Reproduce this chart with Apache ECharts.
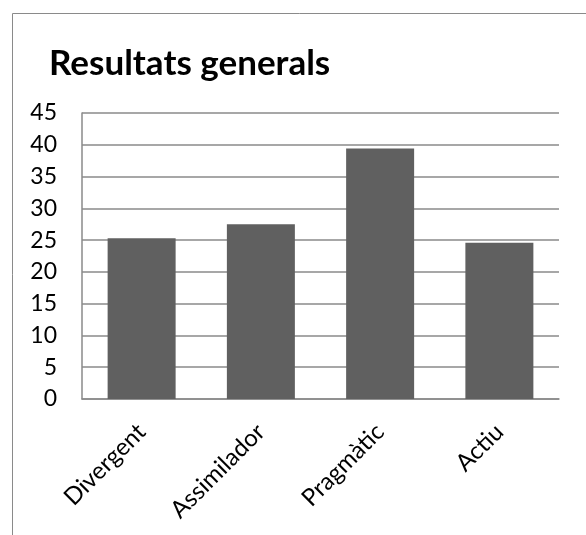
<!DOCTYPE html>
<html><head><meta charset="utf-8">
<script src="https://cdn.jsdelivr.net/npm/echarts@6/dist/echarts.min.js"></script>
<style>html,body{margin:0;padding:0;background:#fff}#c{width:586px;height:535px}</style>
</head><body><div id="c"></div>
<script>
const title = 'Resultats generals';
const categories = ['Divergent', 'Assimilador', 'Pragmàtic', 'Actiu'];
const values = [25.3, 27.5, 39.4, 24.6];
const yMin = 0, yMax = 45, yStep = 5;

const chart = echarts.init(document.getElementById('c'));
chart.setOption({
  animation: false,
  backgroundColor: '#fff',
  graphic: [{
    type: 'rect', shape: {x: 12.5, y: 13.5, width: 700, height: 700},
    style: {fill: 'none', stroke: '#8a8a8a', lineWidth: 1}, z: -1
  }],
  title: {
    text: title, left: 44, top: 41,
    textStyle: {fontFamily: 'Lato', fontWeight: 'bold', fontSize: 35, color: '#000'}
  },
  grid: {left: 82, right: 27, top: 113, bottom: 136, containLabel: false},
  xAxis: {
    type: 'category', data: categories,
    axisLine: {show: true, lineStyle: {color: '#8a8a8a', width: 1.5}},
    axisTick: {show: false},
    axisLabel: {rotate: 45, interval: 0, margin: 29, fontFamily: 'Lato', fontSize: 24, color: '#000'}
  },
  yAxis: {
    type: 'value', min: yMin, max: yMax, interval: yStep,
    axisLine: {show: true, lineStyle: {color: '#8a8a8a', width: 1.5}},
    axisTick: {show: false},
    splitLine: {lineStyle: {color: '#8a8a8a', width: 1.5}},
    axisLabel: {margin: 25, fontFamily: 'Lato', fontSize: 23, color: '#000'}
  },
  series: [{
    type: 'bar', data: values, barWidth: 68,
    itemStyle: {color: '#606060'}
  }]
});
</script></body></html>
